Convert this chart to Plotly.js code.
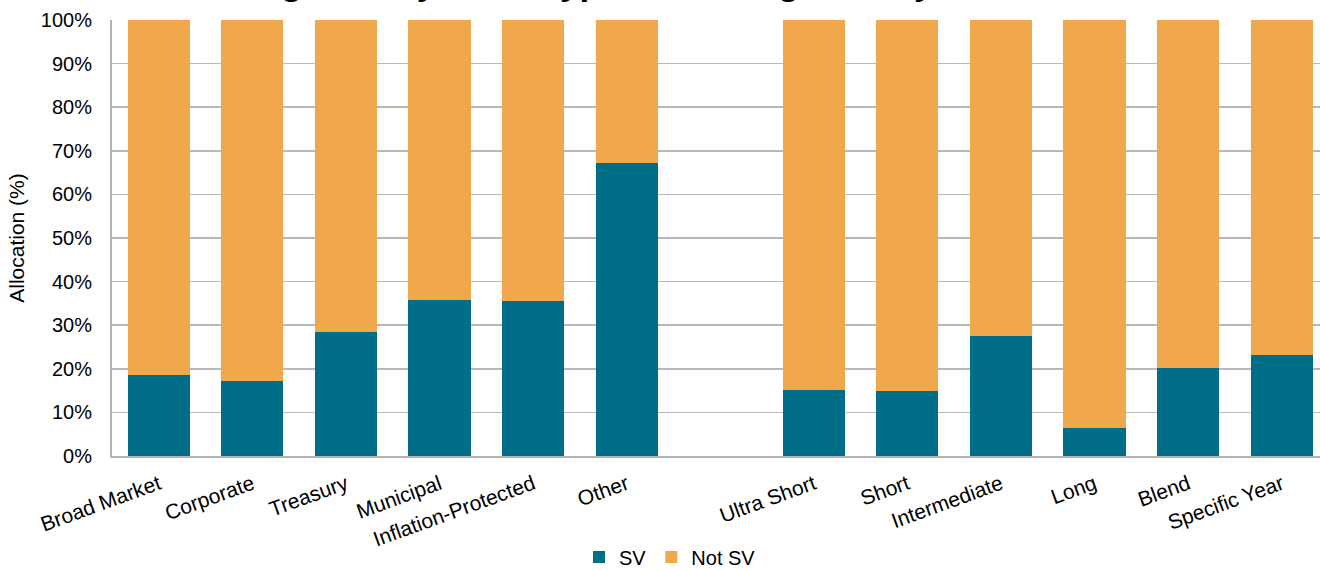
<!DOCTYPE html>
<html>
<head>
<meta charset="utf-8">
<script src="https://cdn.plot.ly/plotly-3.0.1.min.js"></script>
<style>html,body{margin:0;padding:0;background:#fff;}#chart{width:1320px;height:570px;}</style>
</head>
<body>
<div id="chart"></div>
<script>
const chartTitle = 'Allocation Segment by Fund Type and Categories by Duration';
const categories = ['Broad Market','Corporate','Treasury','Municipal','Inflation-Protected','Other',' ','Ultra Short','Short','Intermediate','Long','Blend','Specific Year'];
const svValues =    [18.5, 17.3, 28.5, 35.8, 35.6, 67.2, null, 15.2, 14.8, 27.5, 6.5, 20.2, 23.1];
const notSvValues = [81.5, 82.7, 71.5, 64.2, 64.4, 32.8, null, 84.8, 85.2, 72.5, 93.5, 79.8, 76.9];
const seriesNames = ['SV', 'Not SV'];
const yTickVals = [0,10,20,30,40,50,60,70,80,90,100];
const yTickText = ['0%','10%','20%','30%','40%','50%','60%','70%','80%','90%','100%'];

const font = 'Arial, "Liberation Sans", sans-serif';
const traces = [
  {type:'bar', name:seriesNames[0], x:categories, y:svValues, marker:{color:'#006d89'}, hoverinfo:'none'},
  {type:'bar', name:seriesNames[1], x:categories, y:notSvValues, marker:{color:'#f1a84d'}, hoverinfo:'none'}
];
const layout = {
  width:1320, height:570,
  paper_bgcolor:'#ffffff', plot_bgcolor:'#ffffff',
  margin:{l:112, r:0, t:20, b:114, autoexpand:false},
  barmode:'stack', bargap:0.337,
  font:{family:font, size:20, color:'#000000'},
  annotations:[{text:'<b>'+chartTitle+'</b>', font:{family:font, size:35, color:'#000'},
         xref:'paper', yref:'paper', x:(58-112)/1208, xanchor:'left', y:1, yanchor:'bottom', yshift:17,
         showarrow:false, borderpad:0}],
  xaxis:{type:'category', range:[-0.5, 12.41], tickangle:-20, showgrid:false,
         showline:true, linecolor:'#b3b3b3', linewidth:2, ticks:'', tickfont:{size:21},
         ticklabelstandoff:6, automargin:false},
  yaxis:{range:[0,100], tickvals:yTickVals, ticktext:yTickText, showgrid:true, gridcolor:'#b8b8b8', gridwidth:1.5,
         showline:true, linecolor:'#b3b3b3', linewidth:2, ticks:'', zeroline:false, tickfont:{size:20},
         ticklabelstandoff:14, automargin:false,
         title:{text:'Allocation (%)', font:{size:21}, standoff:10}},
  showlegend:true,
  legend:{orientation:'h', xref:'paper', yref:'paper', x:(670-112)/1208, xanchor:'center', y:-101/436, yanchor:'middle',
          font:{size:20}, traceorder:'normal', itemwidth:30}
};
Plotly.newPlot('chart', traces, layout, {displayModeBar:false, staticPlot:true});
</script>
</body>
</html>
